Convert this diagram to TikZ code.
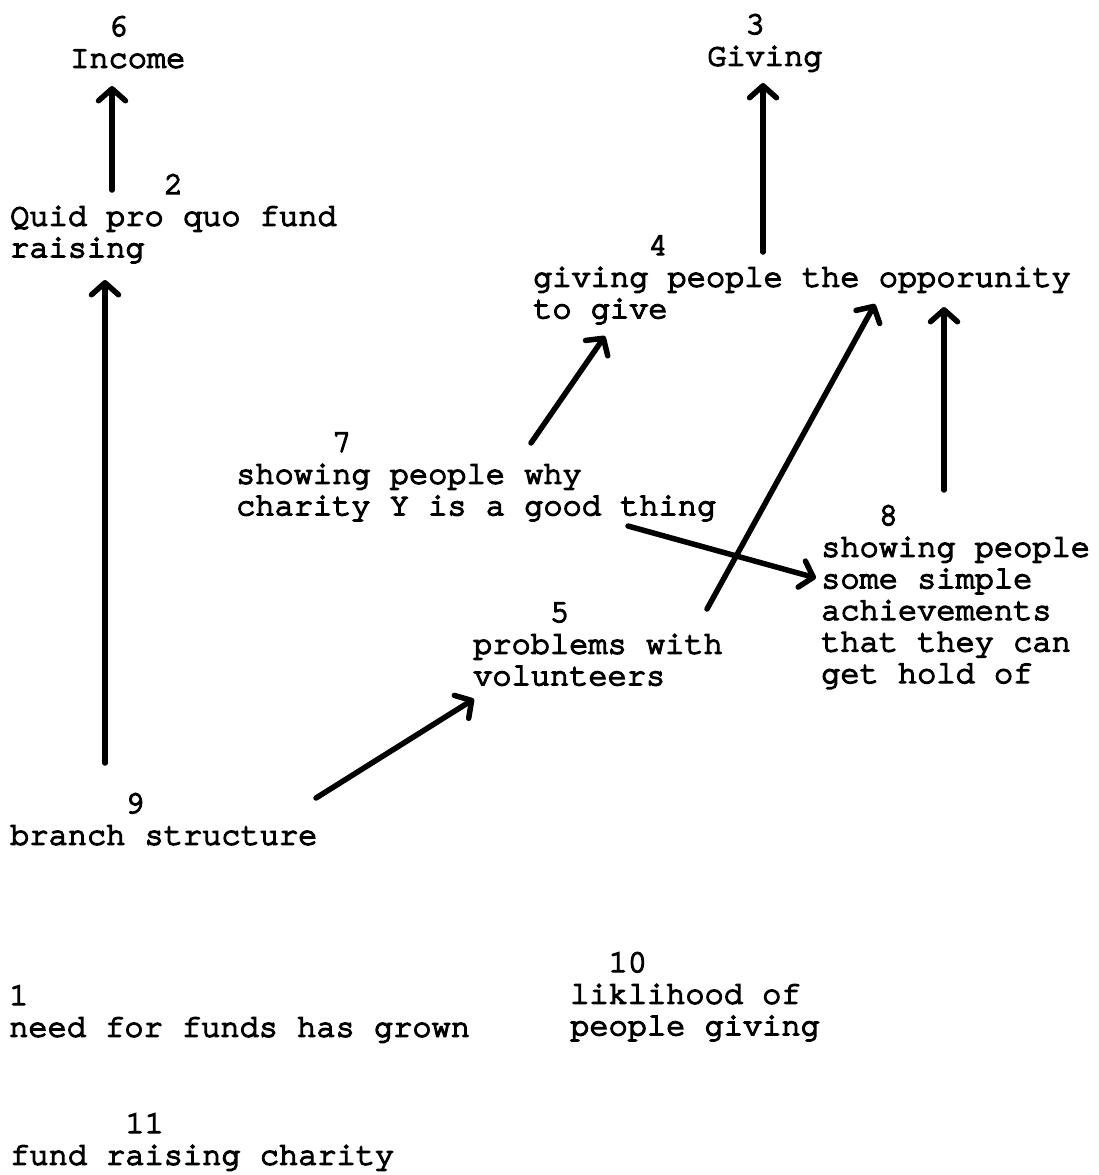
\documentclass[tikz,border=0pt]{standalone}
\usepackage{fontspec}
\newfontfamily\typer[FakeBold=4.5]{texgyrecursor-regular.otf}
\usetikzlibrary{arrows.meta}

% blank character cells in front of a concept number
\newcommand\numpad[1]{\hspace*{#1\dimexpr 0.6em\relax}}
% a concept: number on the first line, wording below, one \hbox per line
\newcommand\concept[1]{\vtop{\lineskiplimit=-100pt #1}}
\newcommand\tline[1]{\hbox{#1}}

\tikzset{
  idea/.style={inner sep=0pt, anchor=base west,
    font=\typer\fontsize{32}{31.6}\selectfont},
  link/.style={line width=5.5pt, line cap=round,
    -{Straight Barb[length=12pt,width=27pt,round]}}
}

\begin{document}
\begin{tikzpicture}[x=1pt,y=-1pt]
\fill[white] (0,0) rectangle (1098,1175);
\useasboundingbox (0,0) rectangle (1098,1175);

% concepts, placed at the baseline of their number line
\node[idea] (n6)  at (70,36)   {\concept{\tline{\numpad{2}6}\tline{Income}}};
\node[idea] (n2)  at (10,194)  {\concept{\tline{\numpad{8}2}\tline{Quid pro quo fund}\tline{raising}}};
\node[idea] (n3)  at (707,34)  {\concept{\tline{\numpad{2}3}\tline{Giving}}};
\node[idea] (n4)  at (533,255) {\concept{\tline{\numpad{6}4}\tline{giving people the opporunity}\tline{to give}}};
\node[idea] (n7)  at (236,452) {\concept{\tline{\numpad{5}7}\tline{showing people why}\tline{charity Y is a good thing}}};
\node[idea] (n8)  at (821,525) {\concept{\tline{\numpad{3}8}\tline{showing people}\tline{some simple}\tline{achievements}\tline{that they can}\tline{get hold of}}};
\node[idea] (n5)  at (473,622) {\concept{\tline{\numpad{4}5}\tline{problems with}\tline{volunteers}}};
\node[idea] (n9)  at (10,813)  {\concept{\tline{\numpad{6}9}\tline{branch structure}}};
\node[idea] (n10) at (570,972) {\concept{\tline{\numpad{2}10}\tline{liklihood of}\tline{people giving}}};
\node[idea] (n1)  at (9,1005)  {\concept{\tline{1}\tline{need for funds has grown}}};
\node[idea] (n11) at (10,1133) {\concept{\tline{\numpad{6}11}\tline{fund raising charity}}};

% influence arrows
\draw[link] ([shift={(102,-4)}]n2.base west)  -- ([shift={(42,50)}]n6.base west);
\draw[link] ([shift={(95,-50)}]n9.base west)  -- ([shift={(95,86)}]n2.base west);
\draw[link] ([shift={(230,-3)}]n4.base west)  -- ([shift={(56,49)}]n3.base west);
\draw[link] ([shift={(295,-9)}]n7.base west)  -- ([shift={(72,81)}]n4.base west);
\draw[link] ([shift={(234,-13)}]n5.base west) -- ([shift={(342,49)}]n4.base west);
\draw[link] ([shift={(123,-35)}]n8.base west) -- ([shift={(411,52)}]n4.base west);
\draw[link] ([shift={(392,74)}]n7.base west)  -- ([shift={(-5,53)}]n8.base west);
\draw[link] ([shift={(306,-15)}]n9.base west) -- ([shift={(1,77)}]n5.base west);
\end{tikzpicture}
\end{document}
